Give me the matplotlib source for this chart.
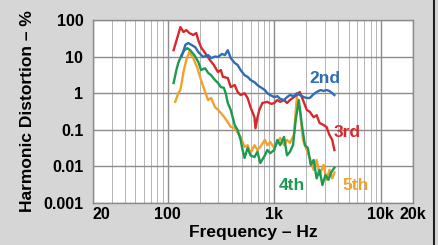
import matplotlib
matplotlib.use("Agg")
import matplotlib.pyplot as plt
from matplotlib.ticker import FixedLocator, NullLocator, LogLocator

plt.rcParams['font.family'] = ['Liberation Sans', 'DejaVu Sans']
plt.rcParams['font.weight'] = 'bold'
plt.rcParams['axes.labelweight'] = 'bold'

# harmonic distortion curves (Hz, %)
f_2nd = [135, 147, 156, 167, 182, 194, 215, 240, 256, 278, 297, 323, 345, 367, 391,
         426, 454, 484, 527, 563, 599, 653, 695, 741, 817, 861, 917, 1000, 1070, 1137,
         1236, 1318, 1404, 1529, 1630, 1737, 1900, 2018, 2154, 2342, 2498, 2720, 2899,
         3091, 3295, 3500, 3664]
v_2nd = [9.8, 21, 23.5, 21, 18, 13.4, 9.8, 11, 9.1, 10, 9.8, 11.8, 11, 15, 9.1,
         6.7, 5.9, 4.3, 3.1, 2.8, 2.3, 2.0, 1.67, 1.47, 1.22, 1.0, 0.89, 0.78, 0.83, 0.70,
         0.65, 0.78, 0.89, 0.83, 1.0, 0.89, 0.78, 0.74, 0.74, 0.94, 1.08, 1.22, 1.15,
         1.22, 1.15, 1.0, 0.89]

f_3rd = [114, 132, 141, 150, 160, 174, 186, 194, 206, 225, 250, 270, 297, 316, 330,
         367, 391, 426, 454, 484, 527, 563, 599, 653, 667, 695, 725, 774, 861, 940,
         1000, 1070, 1137, 1236, 1318, 1404, 1529, 1630, 1737, 1860, 2018, 2154, 2342,
         2498, 2662, 2899, 3091, 3295, 3500, 3664]
v_3rd = [15, 64, 47, 53, 44, 39, 44, 28, 18, 12.5, 8, 6, 3.8, 4.3, 2.8,
         2.6, 1.47, 1.67, 1.08, 0.89, 1.0, 0.74, 0.42, 0.22, 0.11, 0.21, 0.35, 0.54, 0.58, 0.51,
         0.54, 0.65, 0.58, 0.65, 0.54, 0.65, 0.78, 0.89, 1.08, 0.65, 0.35, 0.31, 0.22,
         0.25, 0.154, 0.135, 0.12, 0.072, 0.053, 0.028]

f_4th = [114, 121, 126, 135, 144, 153, 163, 178, 194, 206, 225, 240, 256, 278, 297,
         316, 337, 351, 367, 391, 426, 454, 484, 505, 527, 563, 599, 653, 695, 741,
         817, 861, 917, 1000, 1070, 1137, 1236, 1318, 1404, 1500, 1590, 1700, 1818,
         1940, 2066, 2200, 2342, 2498, 2662, 2830, 3020, 3220, 3430, 3664]
v_4th = [1.9, 4.3, 6.7, 11, 15, 17, 15, 11, 7.2, 4.3, 4.8, 3.6, 3.1, 2.3, 1.9,
         1.47, 1.4, 1.0, 0.54, 0.35, 0.135, 0.099, 0.053, 0.028, 0.017, 0.032, 0.020, 0.018, 0.025, 0.0124,
         0.020, 0.028, 0.023, 0.028, 0.053, 0.038, 0.064, 0.020, 0.025, 0.038, 0.185, 0.65, 0.135,
         0.038, 0.032, 0.011, 0.015, 0.0047, 0.008, 0.0031, 0.0058, 0.0043, 0.007, 0.0092]

f_5th = [118, 126, 132, 141, 150, 160, 174, 190, 206, 225, 240, 256, 278, 297, 316,
         345, 367, 391, 426, 454, 484, 527, 563, 599, 653, 695, 741, 817, 861, 917,
         1000, 1070, 1137, 1236, 1318, 1404, 1529, 1630, 1737, 1860, 2018, 2154, 2342,
         2498, 2662, 2899, 3091, 3295, 3500, 3664]
v_5th = [0.58, 1.0, 1.22, 3.8, 8.1, 13.4, 9.1, 4.9, 2.3, 1.08, 0.65, 0.74, 0.42, 0.35, 0.29,
         0.21, 0.16, 0.12, 0.112, 0.083, 0.064, 0.034, 0.038, 0.023, 0.038, 0.028, 0.034, 0.053, 0.038, 0.046,
         0.032, 0.044, 0.060, 0.038, 0.053, 0.044, 0.072, 0.78, 0.35, 0.053, 0.028, 0.017, 0.008,
         0.015, 0.0058, 0.011, 0.0043, 0.008, 0.0047, 0.0068]

x_ticks = [20, 100, 1000, 10000, 20000]
x_labels = ["20", "100", "1k", "10k", "20k"]
y_ticks = [0.001, 0.01, 0.1, 1, 10, 100]
y_labels = ["0.001", "0.01", "0.1", "1", "10", "100"]

blue = "#2f6db4"
red = "#d8282c"
green = "#1c9a52"
orange = "#f2a22a"

fig = plt.figure(figsize=(4.39, 2.45), dpi=100, facecolor="#d6d6d6")
ax = fig.add_axes([93 / 439, 42 / 245, 320 / 439, 183 / 245])
ax.set_facecolor("white")
ax.set_xscale("log")
ax.set_yscale("log")
ax.set_xlim(20, 20000)
ax.set_ylim(0.001, 100)

ax.xaxis.set_major_locator(FixedLocator(x_ticks))
ax.set_xticklabels(x_labels, fontweight="bold", fontsize=11.5)
ax.xaxis.set_minor_locator(LogLocator(base=10, subs=range(2, 10)))
ax.yaxis.set_major_locator(FixedLocator(y_ticks))
ax.set_yticklabels(y_labels, fontweight="bold", fontsize=11.5)
ax.yaxis.set_minor_locator(NullLocator())

ax.grid(True, which="major", axis="both", color="#8c8c8c", lw=1.0)
ax.grid(True, which="minor", axis="x", color="#b4b4b4", lw=0.7)
ax.tick_params(which="both", length=0)
ax.tick_params(axis="y", pad=7)
ax.tick_params(axis="x", pad=3)
ax.get_xticklabels()[0].set_horizontalalignment("left")
for s in ax.spines.values():
    s.set_color("#8c8c8c")
    s.set_linewidth(1.0)

ax.plot(f_5th, v_5th, color=orange, lw=1.7)
ax.plot(f_4th, v_4th, color=green, lw=1.7)
ax.plot(f_3rd, v_3rd, color=red, lw=1.7)
ax.plot(f_2nd, v_2nd, color=blue, lw=1.7)

ax.text(2967, 2.6, "2nd", color=blue, fontsize=12.5, fontweight="bold", ha="center", va="center")
ax.text(4842, 0.083, "3rd", color=red, fontsize=12.5, fontweight="bold", ha="center", va="center")
ax.text(1468, 0.0031, "4th", color=green, fontsize=12.5, fontweight="bold", ha="center", va="center")
ax.text(5745, 0.0031, "5th", color=orange, fontsize=12.5, fontweight="bold", ha="center", va="center")

ax.set_xlabel("Frequency \u2013 Hz", fontsize=12.5, fontweight="bold", labelpad=2)
ax.set_ylabel("Harmonic Distortion \u2013 %", fontsize=12.5, fontweight="bold", labelpad=6)

# dark page edge at the right of the scan
fig.add_artist(plt.Line2D([434 / 439, 434 / 439], [0, 1], color="#222222", lw=1.5))

fig.savefig("out.png", dpi=100, facecolor=fig.get_facecolor())
